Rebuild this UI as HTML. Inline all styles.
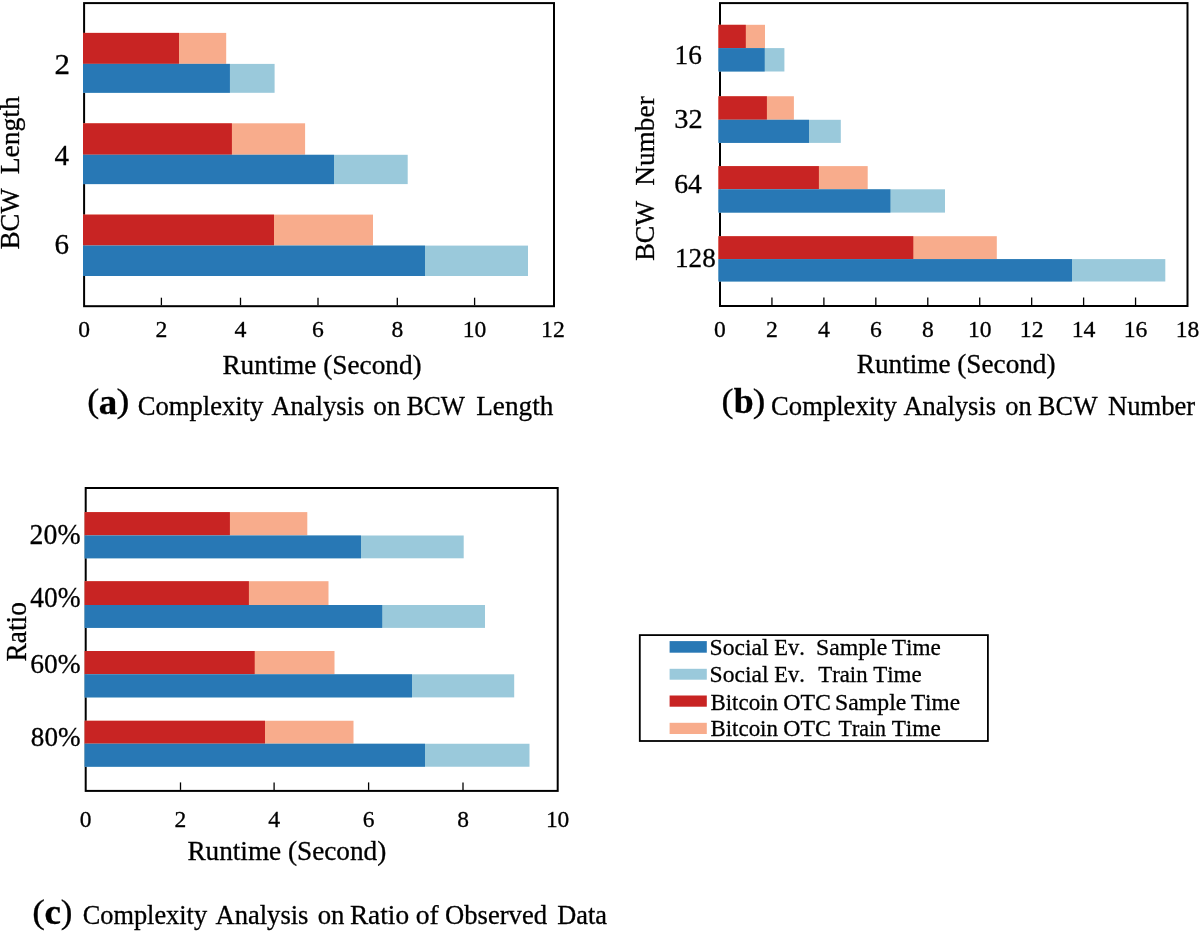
<!DOCTYPE html>
<html><head><meta charset="utf-8"><style>
html,body{margin:0;padding:0;background:#fff;width:1200px;height:932px;overflow:hidden}
svg{display:block;will-change:transform}
text{font-family:"Liberation Serif", serif;font-kerning:none;stroke:#000;stroke-width:0.3px}
</style></head><body>
<svg width="1200" height="932" viewBox="0 0 1200 932">
<rect width="1200" height="932" fill="#fff"/>
<rect x="84.10" y="3.10" width="469.90" height="303.10" fill="none" stroke="#000" stroke-width="2"/>
<rect x="83.00" y="32.90" width="143.20" height="31.00" fill="#F8AC8C"/>
<rect x="83.00" y="32.90" width="96.00" height="31.00" fill="#C82423"/>
<rect x="83.00" y="63.90" width="191.60" height="28.90" fill="#9AC9DB"/>
<rect x="83.00" y="63.90" width="146.90" height="28.90" fill="#2878B5"/>
<rect x="83.00" y="123.30" width="222.10" height="31.50" fill="#F8AC8C"/>
<rect x="83.00" y="123.30" width="148.90" height="31.50" fill="#C82423"/>
<rect x="83.00" y="154.80" width="324.70" height="29.30" fill="#9AC9DB"/>
<rect x="83.00" y="154.80" width="251.00" height="29.30" fill="#2878B5"/>
<rect x="83.00" y="214.60" width="290.00" height="31.00" fill="#F8AC8C"/>
<rect x="83.00" y="214.60" width="191.00" height="31.00" fill="#C82423"/>
<rect x="83.00" y="245.60" width="445.00" height="30.40" fill="#9AC9DB"/>
<rect x="83.00" y="245.60" width="342.00" height="30.40" fill="#2878B5"/>
<line x1="161.40" y1="305.20" x2="161.40" y2="297.70" stroke="#000" stroke-width="1.3"/>
<line x1="240.50" y1="305.20" x2="240.50" y2="297.70" stroke="#000" stroke-width="1.3"/>
<line x1="318.00" y1="305.20" x2="318.00" y2="297.70" stroke="#000" stroke-width="1.3"/>
<line x1="397.30" y1="305.20" x2="397.30" y2="297.70" stroke="#000" stroke-width="1.3"/>
<line x1="474.60" y1="305.20" x2="474.60" y2="297.70" stroke="#000" stroke-width="1.3"/>
<text x="78.21" y="336.67" font-size="23.56" textLength="11.78" lengthAdjust="spacingAndGlyphs" fill="#000">0</text>
<text x="155.47" y="336.70" font-size="23.71" textLength="11.86" lengthAdjust="spacingAndGlyphs" fill="#000">2</text>
<text x="234.54" y="336.70" font-size="23.85" textLength="11.93" lengthAdjust="spacingAndGlyphs" fill="#000">4</text>
<text x="312.08" y="336.67" font-size="23.67" textLength="11.83" lengthAdjust="spacingAndGlyphs" fill="#000">6</text>
<text x="391.41" y="336.67" font-size="23.56" textLength="11.78" lengthAdjust="spacingAndGlyphs" fill="#000">8</text>
<text x="462.82" y="336.67" font-size="23.56" textLength="23.56" lengthAdjust="spacingAndGlyphs" fill="#000">10</text>
<text x="541.04" y="336.70" font-size="23.71" textLength="23.71" lengthAdjust="spacingAndGlyphs" fill="#000">12</text>
<text x="54.44" y="73.90" font-size="28.55" textLength="15.47" lengthAdjust="spacingAndGlyphs" fill="#000">2</text>
<text x="54.43" y="164.90" font-size="30.23" textLength="14.52" lengthAdjust="spacingAndGlyphs" fill="#000">4</text>
<text x="54.55" y="254.12" font-size="29.02" textLength="14.51" lengthAdjust="spacingAndGlyphs" fill="#000">6</text>
<text x="222.41" y="373.90" font-size="27.00" textLength="199.28" lengthAdjust="spacingAndGlyphs" fill="#000">Runtime (Second)</text>
<text transform="translate(18.80,0) rotate(-90)" x="-249.17" y="0" font-size="26.80" textLength="60.72" lengthAdjust="spacingAndGlyphs">BCW</text>
<text transform="translate(18.80,0) rotate(-90)" x="-174.19" y="0" font-size="26.80" textLength="77.96" lengthAdjust="spacingAndGlyphs">Length</text>
<text x="87.17" y="412.47" font-size="34.19" textLength="11.99" lengthAdjust="spacingAndGlyphs" fill="#000">(</text>
<text x="98.81" y="413.65" font-size="36.01" font-weight="bold" textLength="18.50" lengthAdjust="spacingAndGlyphs" fill="#000">a</text>
<text x="116.50" y="412.47" font-size="34.19" textLength="12.97" lengthAdjust="spacingAndGlyphs" fill="#000">)</text>
<text x="137.66" y="414.80" font-size="27.30" textLength="125.75" lengthAdjust="spacingAndGlyphs" fill="#000">Complexity</text>
<text x="271.44" y="414.80" font-size="27.30" textLength="92.82" lengthAdjust="spacingAndGlyphs" fill="#000">Analysis</text>
<text x="373.37" y="414.80" font-size="27.30" textLength="27.04" lengthAdjust="spacingAndGlyphs" fill="#000">on</text>
<text x="406.66" y="414.80" font-size="27.30" textLength="58.39" lengthAdjust="spacingAndGlyphs" fill="#000">BCW</text>
<text x="476.22" y="414.80" font-size="27.30" textLength="77.14" lengthAdjust="spacingAndGlyphs" fill="#000">Length</text>
<rect x="720.00" y="3.10" width="467.50" height="302.90" fill="none" stroke="#000" stroke-width="2"/>
<rect x="718.40" y="24.80" width="46.60" height="23.30" fill="#F8AC8C"/>
<rect x="718.40" y="24.80" width="27.40" height="23.30" fill="#C82423"/>
<rect x="718.40" y="48.10" width="66.00" height="23.40" fill="#9AC9DB"/>
<rect x="718.40" y="48.10" width="46.30" height="23.40" fill="#2878B5"/>
<rect x="718.40" y="96.25" width="75.50" height="23.55" fill="#F8AC8C"/>
<rect x="718.40" y="96.25" width="48.50" height="23.55" fill="#C82423"/>
<rect x="718.40" y="119.80" width="122.40" height="23.10" fill="#9AC9DB"/>
<rect x="718.40" y="119.80" width="90.60" height="23.10" fill="#2878B5"/>
<rect x="718.40" y="166.10" width="149.30" height="23.20" fill="#F8AC8C"/>
<rect x="718.40" y="166.10" width="100.50" height="23.20" fill="#C82423"/>
<rect x="718.40" y="189.30" width="226.60" height="23.30" fill="#9AC9DB"/>
<rect x="718.40" y="189.30" width="172.00" height="23.30" fill="#2878B5"/>
<rect x="718.40" y="236.20" width="278.40" height="22.90" fill="#F8AC8C"/>
<rect x="718.40" y="236.20" width="194.90" height="22.90" fill="#C82423"/>
<rect x="718.40" y="259.10" width="446.90" height="22.40" fill="#9AC9DB"/>
<rect x="718.40" y="259.10" width="353.60" height="22.40" fill="#2878B5"/>
<line x1="771.94" y1="305.00" x2="771.94" y2="297.50" stroke="#000" stroke-width="1.3"/>
<line x1="823.89" y1="305.00" x2="823.89" y2="297.50" stroke="#000" stroke-width="1.3"/>
<line x1="875.83" y1="305.00" x2="875.83" y2="297.50" stroke="#000" stroke-width="1.3"/>
<line x1="927.78" y1="305.00" x2="927.78" y2="297.50" stroke="#000" stroke-width="1.3"/>
<line x1="979.72" y1="305.00" x2="979.72" y2="297.50" stroke="#000" stroke-width="1.3"/>
<line x1="1031.67" y1="305.00" x2="1031.67" y2="297.50" stroke="#000" stroke-width="1.3"/>
<line x1="1083.61" y1="305.00" x2="1083.61" y2="297.50" stroke="#000" stroke-width="1.3"/>
<line x1="1135.56" y1="305.00" x2="1135.56" y2="297.50" stroke="#000" stroke-width="1.3"/>
<text x="714.11" y="336.67" font-size="23.56" textLength="11.78" lengthAdjust="spacingAndGlyphs" fill="#000">0</text>
<text x="766.02" y="336.70" font-size="23.71" textLength="11.86" lengthAdjust="spacingAndGlyphs" fill="#000">2</text>
<text x="817.93" y="336.70" font-size="23.85" textLength="11.93" lengthAdjust="spacingAndGlyphs" fill="#000">4</text>
<text x="869.92" y="336.67" font-size="23.67" textLength="11.83" lengthAdjust="spacingAndGlyphs" fill="#000">6</text>
<text x="921.89" y="336.67" font-size="23.56" textLength="11.78" lengthAdjust="spacingAndGlyphs" fill="#000">8</text>
<text x="967.94" y="336.67" font-size="23.56" textLength="23.56" lengthAdjust="spacingAndGlyphs" fill="#000">10</text>
<text x="1019.81" y="336.70" font-size="23.71" textLength="23.71" lengthAdjust="spacingAndGlyphs" fill="#000">12</text>
<text x="1071.72" y="336.70" font-size="23.78" textLength="23.78" lengthAdjust="spacingAndGlyphs" fill="#000">14</text>
<text x="1123.72" y="336.67" font-size="23.67" textLength="23.67" lengthAdjust="spacingAndGlyphs" fill="#000">16</text>
<text x="1175.72" y="336.67" font-size="23.56" textLength="23.56" lengthAdjust="spacingAndGlyphs" fill="#000">18</text>
<text x="674.60" y="63.83" font-size="27.76" textLength="27.31" lengthAdjust="spacingAndGlyphs" fill="#000">16</text>
<text x="674.34" y="128.23" font-size="27.83" textLength="28.32" lengthAdjust="spacingAndGlyphs" fill="#000">32</text>
<text x="674.26" y="193.43" font-size="28.13" textLength="27.67" lengthAdjust="spacingAndGlyphs" fill="#000">64</text>
<text x="675.01" y="266.84" font-size="27.12" textLength="40.72" lengthAdjust="spacingAndGlyphs" fill="#000">128</text>
<text x="856.82" y="373.20" font-size="27.00" textLength="198.68" lengthAdjust="spacingAndGlyphs" fill="#000">Runtime (Second)</text>
<text transform="translate(654.00,0) rotate(-90)" x="-260.86" y="0" font-size="27.50" textLength="59.81" lengthAdjust="spacingAndGlyphs">BCW</text>
<text transform="translate(654.00,0) rotate(-90)" x="-185.79" y="0" font-size="27.50" textLength="89.53" lengthAdjust="spacingAndGlyphs">Number</text>
<text x="721.42" y="412.47" font-size="34.19" textLength="11.99" lengthAdjust="spacingAndGlyphs" fill="#000">(</text>
<text x="733.80" y="413.41" font-size="35.18" font-weight="bold" textLength="19.90" lengthAdjust="spacingAndGlyphs" fill="#000">b</text>
<text x="752.78" y="412.47" font-size="34.19" textLength="12.64" lengthAdjust="spacingAndGlyphs" fill="#000">)</text>
<text x="771.11" y="414.80" font-size="27.30" textLength="125.70" lengthAdjust="spacingAndGlyphs" fill="#000">Complexity</text>
<text x="903.49" y="414.80" font-size="27.30" textLength="92.46" lengthAdjust="spacingAndGlyphs" fill="#000">Analysis</text>
<text x="1005.24" y="414.80" font-size="27.30" textLength="26.41" lengthAdjust="spacingAndGlyphs" fill="#000">on</text>
<text x="1038.05" y="414.80" font-size="27.30" textLength="59.50" lengthAdjust="spacingAndGlyphs" fill="#000">BCW</text>
<text x="1107.98" y="414.80" font-size="27.30" textLength="87.25" lengthAdjust="spacingAndGlyphs" fill="#000">Number</text>
<rect x="85.70" y="488.00" width="472.00" height="302.90" fill="none" stroke="#000" stroke-width="2"/>
<rect x="84.60" y="512.10" width="222.70" height="23.40" fill="#F8AC8C"/>
<rect x="84.60" y="512.10" width="145.30" height="23.40" fill="#C82423"/>
<rect x="84.60" y="535.50" width="379.10" height="22.80" fill="#9AC9DB"/>
<rect x="84.60" y="535.50" width="276.40" height="22.80" fill="#2878B5"/>
<rect x="84.60" y="581.20" width="243.90" height="23.80" fill="#F8AC8C"/>
<rect x="84.60" y="581.20" width="164.30" height="23.80" fill="#C82423"/>
<rect x="84.60" y="605.00" width="400.40" height="22.90" fill="#9AC9DB"/>
<rect x="84.60" y="605.00" width="297.60" height="22.90" fill="#2878B5"/>
<rect x="84.60" y="651.00" width="249.90" height="23.30" fill="#F8AC8C"/>
<rect x="84.60" y="651.00" width="170.10" height="23.30" fill="#C82423"/>
<rect x="84.60" y="674.30" width="429.60" height="23.10" fill="#9AC9DB"/>
<rect x="84.60" y="674.30" width="327.40" height="23.10" fill="#2878B5"/>
<rect x="84.60" y="720.75" width="268.90" height="23.00" fill="#F8AC8C"/>
<rect x="84.60" y="720.75" width="180.40" height="23.00" fill="#C82423"/>
<rect x="84.60" y="743.75" width="444.90" height="23.00" fill="#9AC9DB"/>
<rect x="84.60" y="743.75" width="340.40" height="23.00" fill="#2878B5"/>
<line x1="180.50" y1="789.90" x2="180.50" y2="782.40" stroke="#000" stroke-width="1.3"/>
<line x1="274.10" y1="789.90" x2="274.10" y2="782.40" stroke="#000" stroke-width="1.3"/>
<line x1="368.60" y1="789.90" x2="368.60" y2="782.40" stroke="#000" stroke-width="1.3"/>
<line x1="463.00" y1="789.90" x2="463.00" y2="782.40" stroke="#000" stroke-width="1.3"/>
<text x="79.85" y="827.07" font-size="23.41" textLength="11.71" lengthAdjust="spacingAndGlyphs" fill="#000">0</text>
<text x="174.61" y="827.10" font-size="23.56" textLength="11.78" lengthAdjust="spacingAndGlyphs" fill="#000">2</text>
<text x="268.17" y="827.10" font-size="23.70" textLength="11.85" lengthAdjust="spacingAndGlyphs" fill="#000">4</text>
<text x="362.72" y="827.07" font-size="23.52" textLength="11.76" lengthAdjust="spacingAndGlyphs" fill="#000">6</text>
<text x="457.15" y="827.07" font-size="23.41" textLength="11.71" lengthAdjust="spacingAndGlyphs" fill="#000">8</text>
<text x="545.89" y="827.07" font-size="23.41" textLength="23.41" lengthAdjust="spacingAndGlyphs" fill="#000">10</text>
<text x="29.58" y="543.92" font-size="28.75" textLength="50.97" lengthAdjust="spacingAndGlyphs" fill="#000">20%</text>
<text x="30.26" y="607.02" font-size="28.75" textLength="50.27" lengthAdjust="spacingAndGlyphs" fill="#000">40%</text>
<text x="30.22" y="672.73" font-size="28.01" textLength="50.42" lengthAdjust="spacingAndGlyphs" fill="#000">60%</text>
<text x="30.87" y="746.04" font-size="27.28" textLength="49.76" lengthAdjust="spacingAndGlyphs" fill="#000">80%</text>
<text x="187.42" y="860.10" font-size="27.00" textLength="198.88" lengthAdjust="spacingAndGlyphs" fill="#000">Runtime (Second)</text>
<text transform="translate(25.50,0) rotate(-90)" x="-661.49" y="0" font-size="28.60" textLength="59.33" lengthAdjust="spacingAndGlyphs">Ratio</text>
<text x="32.33" y="922.72" font-size="34.19" textLength="12.64" lengthAdjust="spacingAndGlyphs" fill="#000">(</text>
<text x="44.48" y="923.68" font-size="34.86" font-weight="bold" textLength="16.44" lengthAdjust="spacingAndGlyphs" fill="#000">c</text>
<text x="60.87" y="922.78" font-size="33.91" textLength="11.67" lengthAdjust="spacingAndGlyphs" fill="#000">)</text>
<text x="82.67" y="923.75" font-size="26.60" textLength="124.43" lengthAdjust="spacingAndGlyphs" fill="#000">Complexity</text>
<text x="215.49" y="923.75" font-size="26.60" textLength="92.97" lengthAdjust="spacingAndGlyphs" fill="#000">Analysis</text>
<text x="317.68" y="923.75" font-size="26.60" textLength="26.72" lengthAdjust="spacingAndGlyphs" fill="#000">on</text>
<text x="349.91" y="923.75" font-size="26.60" textLength="59.13" lengthAdjust="spacingAndGlyphs" fill="#000">Ratio</text>
<text x="415.75" y="923.75" font-size="26.60" textLength="22.95" lengthAdjust="spacingAndGlyphs" fill="#000">of</text>
<text x="445.01" y="923.75" font-size="26.60" textLength="102.02" lengthAdjust="spacingAndGlyphs" fill="#000">Observed</text>
<text x="557.34" y="923.75" font-size="26.60" textLength="49.72" lengthAdjust="spacingAndGlyphs" fill="#000">Data</text>
<rect x="639.8" y="635.1" width="348.1" height="105.9" fill="#fff" stroke="#000" stroke-width="1.8"/>
<rect x="669.60" y="641.10" width="37.20" height="11.60" fill="#2878B5"/>
<rect x="669.60" y="668.80" width="37.20" height="10.90" fill="#9AC9DB"/>
<rect x="669.60" y="695.50" width="37.20" height="11.20" fill="#C82423"/>
<rect x="669.60" y="722.80" width="37.20" height="11.20" fill="#F8AC8C"/>
<text x="709.63" y="655.00" font-size="23.30" textLength="58.85" lengthAdjust="spacingAndGlyphs" fill="#000">Social</text>
<text x="774.35" y="655.00" font-size="23.30" textLength="30.63" lengthAdjust="spacingAndGlyphs" fill="#000">Ev.</text>
<text x="816.01" y="655.00" font-size="23.30" textLength="71.21" lengthAdjust="spacingAndGlyphs" fill="#000">Sample</text>
<text x="891.83" y="655.00" font-size="23.30" textLength="48.97" lengthAdjust="spacingAndGlyphs" fill="#000">Time</text>
<text x="709.63" y="682.20" font-size="23.30" textLength="58.85" lengthAdjust="spacingAndGlyphs" fill="#000">Social</text>
<text x="774.35" y="682.20" font-size="23.30" textLength="30.63" lengthAdjust="spacingAndGlyphs" fill="#000">Ev.</text>
<text x="818.34" y="682.20" font-size="23.30" textLength="49.20" lengthAdjust="spacingAndGlyphs" fill="#000">Train</text>
<text x="873.19" y="682.20" font-size="23.30" textLength="48.41" lengthAdjust="spacingAndGlyphs" fill="#000">Time</text>
<text x="710.44" y="709.50" font-size="23.30" textLength="67.51" lengthAdjust="spacingAndGlyphs" fill="#000">Bitcoin</text>
<text x="783.22" y="709.50" font-size="23.30" textLength="47.69" lengthAdjust="spacingAndGlyphs" fill="#000">OTC</text>
<text x="835.11" y="709.50" font-size="23.30" textLength="71.21" lengthAdjust="spacingAndGlyphs" fill="#000">Sample</text>
<text x="910.88" y="709.50" font-size="23.30" textLength="49.13" lengthAdjust="spacingAndGlyphs" fill="#000">Time</text>
<text x="710.44" y="736.20" font-size="23.30" textLength="67.51" lengthAdjust="spacingAndGlyphs" fill="#000">Bitcoin</text>
<text x="783.22" y="736.20" font-size="23.30" textLength="47.69" lengthAdjust="spacingAndGlyphs" fill="#000">OTC</text>
<text x="838.60" y="736.20" font-size="23.30" textLength="47.43" lengthAdjust="spacingAndGlyphs" fill="#000">Train</text>
<text x="891.68" y="736.20" font-size="23.30" textLength="49.03" lengthAdjust="spacingAndGlyphs" fill="#000">Time</text>
</svg>
</body></html>
